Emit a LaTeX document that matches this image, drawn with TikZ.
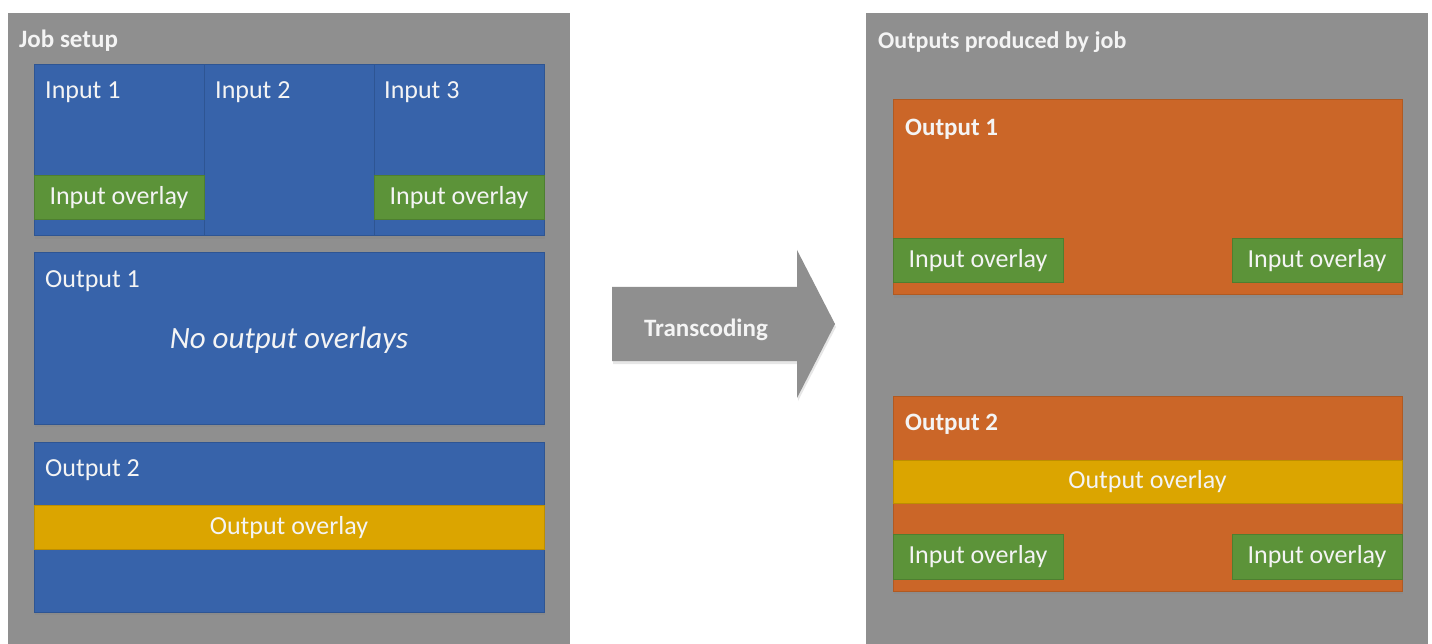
\documentclass[tikz,border=0pt]{standalone}
\usepackage{fontspec}
\setmainfont{Carlito}
\usetikzlibrary{shadows}
\definecolor{panelgray}{HTML}{8F8F8F}
\definecolor{boxblue}{HTML}{3763AA}
\definecolor{boxblueedge}{HTML}{2E5593}
\definecolor{ovgreen}{HTML}{5C9339}
\definecolor{ovgreenedge}{HTML}{4E7F30}
\definecolor{outorange}{HTML}{CB6628}
\definecolor{outorangeedge}{HTML}{B05A22}
\definecolor{ovyellow}{HTML}{DBA500}
\definecolor{ovyellowedge}{HTML}{BD8E00}
\definecolor{txt}{HTML}{F4F4F4}
\tikzset{
  boxbase/.style={anchor=north west, inner sep=0pt, outer sep=0pt, line width=1pt},
  panel/.style={boxbase, fill=panelgray},
  bluebox/.style={boxbase, fill=boxblue, draw=boxblueedge,
    drop shadow={shadow xshift=1pt, shadow yshift=-3pt, opacity=0.25}},
  orangebox/.style={boxbase, fill=outorange, draw=outorangeedge,
    drop shadow={shadow xshift=1pt, shadow yshift=-3pt, opacity=0.2}},
  greenbox/.style={boxbase, fill=ovgreen, draw=ovgreenedge},
  yellowbox/.style={boxbase, fill=ovyellow, draw=ovyellowedge},
  lbl/.style={text=txt, inner sep=0pt, anchor=base west, font=\fontsize{26}{30}\selectfont},
  boldlbl/.style={lbl, font=\fontsize{25}{30}\selectfont\bfseries},
  ovlbl/.style={text=txt, inner sep=0pt, anchor=base, yshift=-7pt, font=\fontsize{26}{30}\selectfont},
}
\begin{document}
\begin{tikzpicture}[x=1pt,y=-1pt]
\useasboundingbox (0,0) rectangle (1432,644);
% panels
\node[panel, minimum width=562pt, minimum height=640pt] (jobpanel) at (8,13) {};
\node[panel, minimum width=562pt, minimum height=640pt] (outpanel) at (866,13) {};
\node[boldlbl] (jobtitle) at (19,48) {Job setup};
\node[boldlbl, font=\fontsize{24}{30}\selectfont\bfseries] (outtitle) at (878,49) {Outputs produced by job};
% inputs
\node[bluebox, minimum width=170pt, minimum height=171pt] (in1) at (34,65) {};
\node[bluebox, minimum width=170pt, minimum height=171pt] (in2) at (204,65) {};
\node[bluebox, minimum width=170pt, minimum height=171pt] (in3) at (374,65) {};
\node[lbl] (in1l) at (45,99) {Input 1};
\node[lbl] (in2l) at (215,99) {Input 2};
\node[lbl] (in3l) at (384,99) {Input 3};
\node[greenbox, minimum width=170pt, minimum height=44pt] (ig1) at (34,176) {};
\node[greenbox, minimum width=170pt, minimum height=44pt] (ig3) at (374,176) {};
\node[ovlbl] (ig1l) at (ig1.center) {Input overlay};
\node[ovlbl] (ig3l) at (ig3.center) {Input overlay};
% output 1 (setup)
\node[bluebox, minimum width=510pt, minimum height=171pt] (out1) at (34,253) {};
\node[lbl] (out1l) at (45,288) {Output 1};
\node[text=txt, inner sep=0pt, anchor=base, font=\fontsize{31}{36}\selectfont\itshape] (noov) at (289,348) {No output overlays};
% output 2 (setup)
\node[bluebox, minimum width=510pt, minimum height=170pt] (out2) at (34,442) {};
\node[lbl] (out2l) at (45,476) {Output 2};
\node[yellowbox, minimum width=510pt, minimum height=44pt] (oy) at (34,505) {};
\node[ovlbl] (oyl) at (oy.center) {Output overlay};
% arrow
\filldraw[fill=panelgray, draw=none, drop shadow={shadow xshift=1pt, shadow yshift=-3pt, opacity=0.2}]
  (612,287) -- (797,287) -- (797,250) -- (835,324) -- (797,398) -- (797,361) -- (612,361) -- cycle;
\node[text=txt, inner sep=0pt, anchor=base, font=\fontsize{25}{30}\selectfont\bfseries] (trans) at (706,336) {Transcoding};
% outputs produced
\node[orangebox, minimum width=509pt, minimum height=195pt] (ro1) at (893,100) {};
\node[boldlbl] (ro1l) at (905,136) {Output 1};
\node[greenbox, minimum width=170pt, minimum height=44pt] (rg1) at (893,239) {};
\node[greenbox, minimum width=170pt, minimum height=44pt] (rg2) at (1232,239) {};
\node[ovlbl] (rg1l) at (rg1.center) {Input overlay};
\node[ovlbl] (rg2l) at (rg2.center) {Input overlay};
\node[orangebox, minimum width=509pt, minimum height=195pt] (ro2) at (893,396) {};
\node[boldlbl] (ro2l) at (905,430) {Output 2};
\node[yellowbox, minimum width=509pt, minimum height=43pt] (ry) at (893,460) {};
\node[ovlbl] (ryl) at (ry.center) {Output overlay};
\node[greenbox, minimum width=170pt, minimum height=45pt] (rg3) at (893,534) {};
\node[greenbox, minimum width=170pt, minimum height=45pt] (rg4) at (1232,534) {};
\node[ovlbl] (rg3l) at (rg3.center) {Input overlay};
\node[ovlbl] (rg4l) at (rg4.center) {Input overlay};
\end{tikzpicture}
\end{document}
